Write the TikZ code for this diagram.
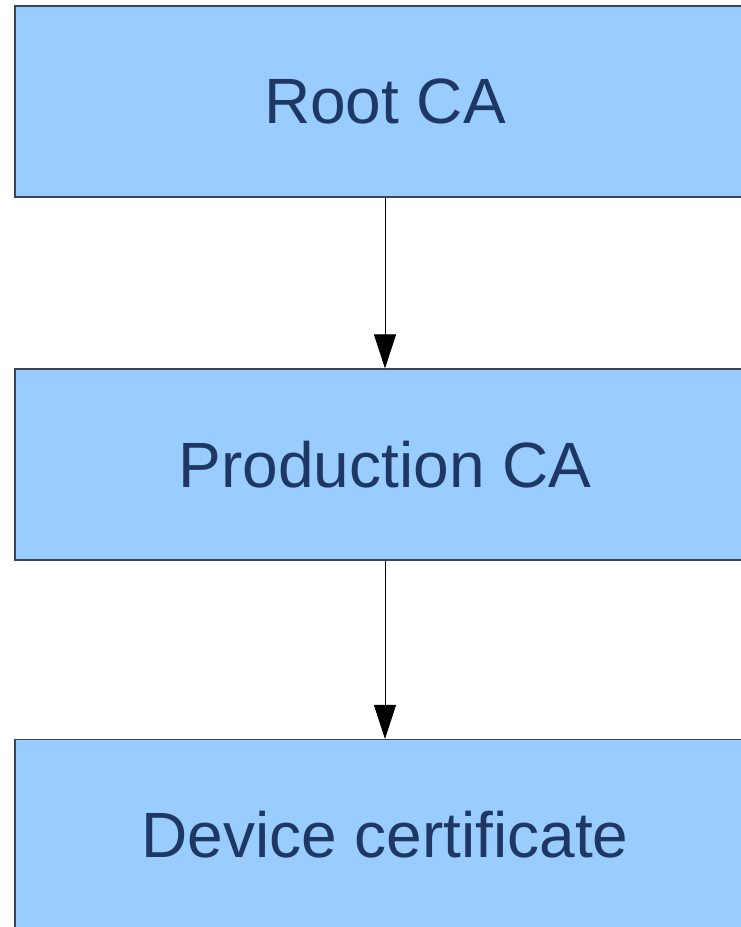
\documentclass[tikz,border=0pt]{standalone}
\usepackage{fontspec}
\setmainfont{Liberation Sans}
\usetikzlibrary{arrows.meta}
\definecolor{boxfill}{HTML}{99CCFF}
\definecolor{boxline}{HTML}{3C4650}
\definecolor{boxtext}{HTML}{1F3763}
\tikzset{
  certbox/.style={draw=boxline, line width=1.1pt, fill=boxfill, rectangle,
    minimum width=740pt, minimum height=191pt, inner sep=0pt,
    text=boxtext, font=\fontsize{64}{72}\selectfont},
  chain/.style={draw=black, line width=0.9pt,
    -{Triangle[width=22pt,length=34pt]}}
}
\begin{document}
\begin{tikzpicture}[x=1pt, y=-1pt]
  \useasboundingbox (0,0) rectangle (741,927);
  \clip (0,0) rectangle (741,927);
  \fill[white] (0,0) rectangle (741,927);
  \node[certbox] (root) at (385,101.5) {Root CA};
  \node[certbox] (prod) at (385,464.5) {Production CA};
  \node[certbox] (dev)  at (385,835)   {Device certificate};
  \draw[chain] (root.south) -- (prod.north);
  \draw[chain] (prod.south) -- (dev.north);
\end{tikzpicture}
\end{document}
